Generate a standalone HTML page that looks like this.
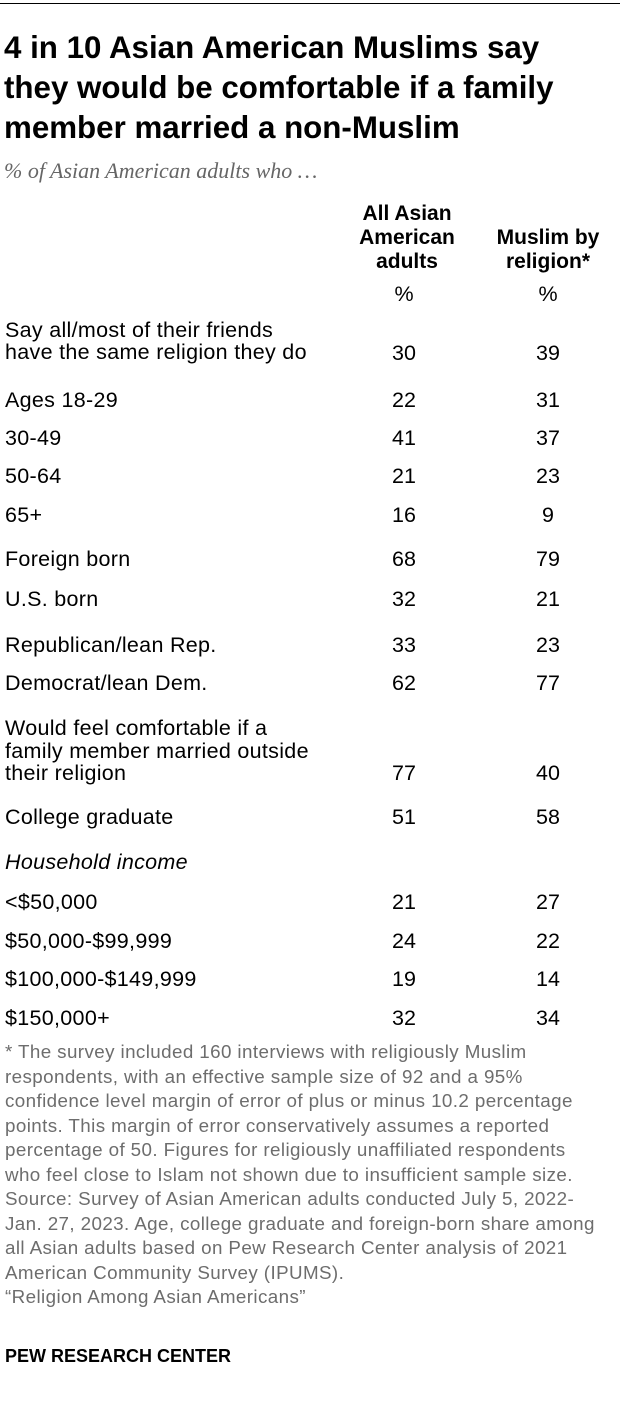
<!DOCTYPE html>
<html><head><meta charset="utf-8"><style>
body{margin:0;width:620px;height:1404px;background:#fff;position:relative;font-family:"Liberation Sans",sans-serif;color:#000;overflow:hidden}
.a{position:absolute;white-space:nowrap;line-height:22px}
.l{left:5px;font-size:21.5px;letter-spacing:0.3px}
.v{font-size:21.5px;width:60px;text-align:center}
.c1{left:374px}.c2{left:518px}
.h{font-weight:bold;font-size:21px;text-align:center;line-height:24px}
.f{left:5px;font-size:18.8px;letter-spacing:0.4px;color:#6d6d6d;line-height:24.5px;white-space:nowrap}
</style></head><body>
<div style="position:absolute;left:0;top:3px;width:620px;height:1px;background:#000"></div>
<div class="a" style="left:4px;top:28px;font-size:31.3px;font-weight:bold;line-height:40px">4 in 10 Asian American Muslims say<br>they would be comfortable if a family<br>member married a non-Muslim</div>
<div class="a" style="left:4px;top:160px;font-family:'Liberation Serif',serif;font-style:italic;font-size:22px;color:#666">% of Asian American adults who …</div>
<div class="a h" style="left:342px;top:202px;width:130px">All Asian<br>American<br>adults</div>
<div class="a h" style="left:478px;top:226px;width:140px">Muslim by<br>religion*</div>
<div class="a v c1" style="top:283px">%</div><div class="a v c2" style="top:283px">%</div>
<div class="a l" style="top:319px">Say all/most of their friends<br>have the same religion they do</div>
<div class="a v c1" style="top:342px">30</div><div class="a v c2" style="top:342px">39</div>
<div class="a l" style="top:389px">Ages 18-29</div><div class="a v c1" style="top:389px">22</div><div class="a v c2" style="top:389px">31</div>
<div class="a l" style="top:427px">30-49</div><div class="a v c1" style="top:427px">41</div><div class="a v c2" style="top:427px">37</div>
<div class="a l" style="top:465px">50-64</div><div class="a v c1" style="top:465px">21</div><div class="a v c2" style="top:465px">23</div>
<div class="a l" style="top:504px">65+</div><div class="a v c1" style="top:504px">16</div><div class="a v c2" style="top:504px">9</div>
<div class="a l" style="top:548px">Foreign born</div><div class="a v c1" style="top:548px">68</div><div class="a v c2" style="top:548px">79</div>
<div class="a l" style="top:588px">U.S. born</div><div class="a v c1" style="top:588px">32</div><div class="a v c2" style="top:588px">21</div>
<div class="a l" style="top:634px">Republican/lean Rep.</div><div class="a v c1" style="top:634px">33</div><div class="a v c2" style="top:634px">23</div>
<div class="a l" style="top:672px">Democrat/lean Dem.</div><div class="a v c1" style="top:672px">62</div><div class="a v c2" style="top:672px">77</div>
<div class="a l" style="top:717px;line-height:22.5px">Would feel comfortable if a<br>family member married outside<br>their religion</div>
<div class="a v c1" style="top:762px">77</div><div class="a v c2" style="top:762px">40</div>
<div class="a l" style="top:806px">College graduate</div><div class="a v c1" style="top:806px">51</div><div class="a v c2" style="top:806px">58</div>
<div class="a l" style="top:851px;font-style:italic">Household income</div>
<div class="a l" style="top:891px">&lt;$50,000</div><div class="a v c1" style="top:891px">21</div><div class="a v c2" style="top:891px">27</div>
<div class="a l" style="top:930px">$50,000-$99,999</div><div class="a v c1" style="top:930px">24</div><div class="a v c2" style="top:930px">22</div>
<div class="a l" style="top:968px">$100,000-$149,999</div><div class="a v c1" style="top:968px">19</div><div class="a v c2" style="top:968px">14</div>
<div class="a l" style="top:1007px">$150,000+</div><div class="a v c1" style="top:1007px">32</div><div class="a v c2" style="top:1007px">34</div>
<div class="a f" style="top:1040px">* The survey included 160 interviews with religiously Muslim<br>respondents, with an effective sample size of 92 and a 95%<br>confidence level margin of error of plus or minus 10.2 percentage<br>points. This margin of error conservatively assumes a reported<br>percentage of 50. Figures for religiously unaffiliated respondents<br>who feel close to Islam not shown due to insufficient sample size.<br>Source: Survey of Asian American adults conducted July 5, 2022-<br>Jan. 27, 2023. Age, college graduate and foreign-born share among<br>all Asian adults based on Pew Research Center analysis of 2021<br>American Community Survey (IPUMS).<br>“Religion Among Asian Americans”</div>
<div class="a" style="left:5px;top:1345px;font-size:18px;font-weight:bold">PEW RESEARCH CENTER</div>
</body></html>
